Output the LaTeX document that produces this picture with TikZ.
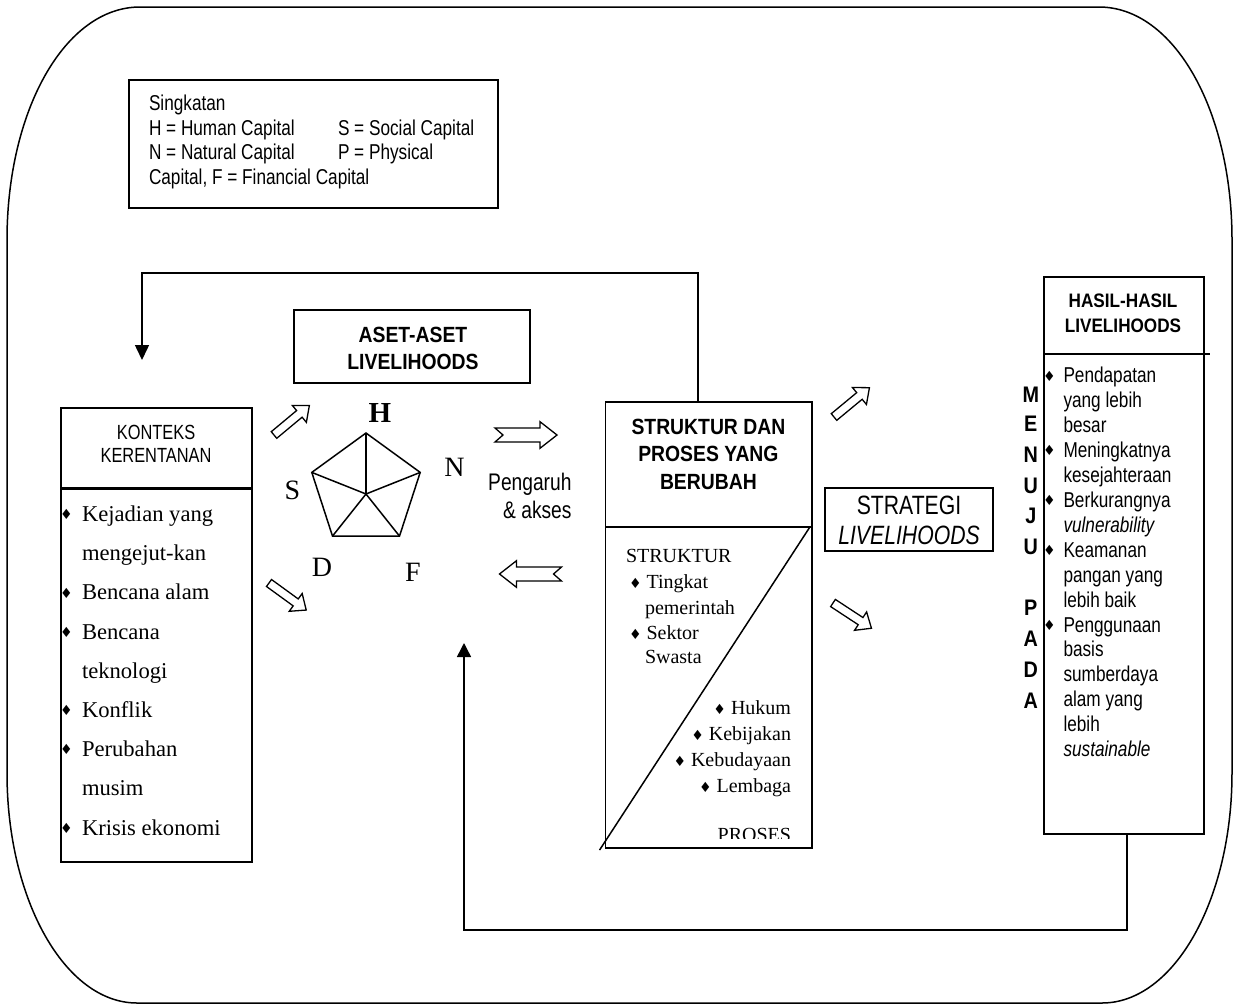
\documentclass[tikz,border=0pt]{standalone}
\usepackage{fontspec}
\setmainfont{Liberation Serif}
\newfontfamily\nsans[FakeStretch=0.8]{Liberation Sans}
\newfontfamily\bsans[FakeStretch=0.88]{Liberation Sans}
\newfontfamily\symf{DejaVu Sans}
\usetikzlibrary{arrows.meta,calc}
\newcommand{\dmd}{{\symf\fontsize{14}{14}\selectfont ♦}}
\tikzset{
  box/.style={draw, line width=1.7pt, inner sep=0pt, outer sep=0pt},
  boxl/.style={line width=1.7pt},
  conn/.style={line width=1.5pt},
  pent/.style={line width=1.5pt, line join=miter},
  harr/.style={line width=1.3pt, fill=white, line join=miter},
  txt/.style={inner sep=0pt, outer sep=0pt},
  lg/.style={txt, font=\nsans\fontsize{21.5}{24}\selectfont, text height=15.4pt, text depth=0pt, anchor=west},
  hl/.style={txt, font=\nsans\fontsize{21.5}{24}\selectfont, text height=15.4pt, text depth=0pt, anchor=west},
  ks/.style={txt, font=\nsans\fontsize{20.5}{24}\selectfont, text height=14.7pt, text depth=0pt},
  pg/.style={txt, font=\nsans\fontsize{24}{26}\selectfont, text height=17.2pt, text depth=0pt, anchor=east},
  st/.style={txt, font=\nsans\fontsize{26.5}{28}\selectfont, text height=19pt, text depth=0pt},
  sr/.style={txt, font=\fontsize{22.6}{26}\selectfont, text height=15pt, text depth=0pt, anchor=west},
  ss/.style={txt, font=\fontsize{20}{24}\selectfont, text height=13.3pt, text depth=0pt},
  bt/.style={txt, font=\bsans\bfseries\fontsize{22}{24}\selectfont, text height=15.8pt, text depth=0pt},
  bth/.style={txt, font=\bsans\bfseries\fontsize{19.5}{22}\selectfont, text height=14pt, text depth=0pt},
  mj/.style={txt, font=\bsans\bfseries\fontsize{22.5}{24}\selectfont, text height=16pt, text depth=0pt},
  pl/.style={txt, font=\fontsize{28}{30}\selectfont, text height=18.5pt, text depth=0pt},
  dia/.style={txt, font=\symf\fontsize{14}{14}\selectfont},
  hollow/.pic={\draw[harr] (0,-4.3) -- (33,-4.3) -- (33,-11) -- (46,0) -- (33,11) -- (33,4.3) -- (0,4.3) -- cycle;},
  notched/.pic={\draw[harr] (0,-7) -- (45,-7) -- (45,-13.3) -- (62,0) -- (45,13.3) -- (45,7) -- (0,7) -- (8,0) -- cycle;}
}
\begin{document}
\begin{tikzpicture}[x=1pt,y=-1pt]
\useasboundingbox (0,0) rectangle (1235,1005);
% outer frame
\draw[line width=1.5pt] (140,7) -- (1099,7) .. controls (1173.8,7) and (1232,110) .. (1232,240) -- (1232,773) .. controls (1232,900) and (1173.8,1003) .. (1102,1003) -- (137,1003) .. controls (65.2,1003) and (7,900) .. (7,773) -- (7,240) .. controls (7,110) and (65.2,7) .. (140,7) -- cycle;

% legend
\node[box, minimum width=369pt, minimum height=128pt] (legend) at (313.5,144) {};
\node[lg] (lg0) at (149,102.7) {Singkatan};
\node[lg] (lg1) at (149,127.3) {H = Human Capital};
\node[lg] (lg1b) at (338,127.3) {S = Social Capital};
\node[lg] (lg2) at (149,152) {N = Natural Capital};
\node[lg] (lg2b) at (338,152) {P = Physical};
\node[lg] (lg3) at (149,176.7) {Capital, F = Financial Capital};

% aset box
\node[box, minimum width=236pt, minimum height=73pt] (aset) at (412,346.5) {};
\node[bt] (aset1) at (413,335) {ASET-ASET};
\node[bt] (aset2) at (413,362) {LIVELIHOODS};

% konteks box
\node[box, minimum width=191pt, minimum height=454pt] (konteks) at (156.5,635) {};
\draw[line width=3pt] ([yshift=-80pt]konteks.north west) -- ([yshift=-80pt]konteks.north east);
\node[ks] (k1) at (156,431.7) {KONTEKS};
\node[ks] (k2) at (156,455) {KERENTANAN};
\foreach \t [count=\i from 0] in {Kejadian yang, mengejut-kan, Bencana alam, Bencana, teknologi, Konflik, Perubahan, musim, Krisis ekonomi}
  \node[sr] (kl\i) at (82,{514+39.2*\i}) {\t};
\foreach \i in {0,2,3,5,6,8}
  \node[dia] (kb\i) at (66.5,{514.5+39.2*\i}) {♦};

% pentagon
\coordinate (pT) at (366,433);
\coordinate (pR) at (420.2,472.4);
\coordinate (pBR) at (399.5,536.1);
\coordinate (pBL) at (332.5,536.1);
\coordinate (pL) at (311.8,472.4);
\coordinate (pC) at (366,494);
\draw[pent] (pT) -- (pR) -- (pBR) -- (pBL) -- (pL) -- cycle;
\foreach \p in {pT,pR,pBR,pBL,pL} \draw[pent] (pC) -- (\p);
\node[pl, font=\bfseries\fontsize{29}{30}\selectfont] (capH) at (380,413) {H};
\node[pl] (capS) at (292.5,490) {S};
\node[pl] (capN) at (454.5,467) {N};
\node[pl] (capD) at (322,567) {D};
\node[pl] (capF) at (413,572) {F};

% hollow arrows
\pic[rotate=39.8] at (274,435) {hollow};
\pic[rotate=-36] at (269,583) {hollow};
\pic[rotate=39.6] at (834,417) {hollow};
\pic[rotate=-33.3] at (833,603) {hollow};
\pic at (495,435) {notched};
\pic[rotate=180] at (561.5,574) {notched};

\node[pg] (peng1) at (571.5,481.7) {Pengaruh};
\node[pg] (peng2) at (571.5,510) {\& akses};

% struktur box
\node[box, minimum width=206.5pt, minimum height=446.3pt] (struktur) at (708.8,624.9) {};
\node[bt] (sj1) at (708.4,426.7) {STRUKTUR DAN};
\node[bt] (sj2) at (708.4,454) {PROSES YANG};
\node[bt] (sj3) at (708.4,481.7) {BERUBAH};
\draw[boxl] ([yshift=-125pt]struktur.north west) -- ([yshift=-125pt]struktur.north east);
\draw[line width=1.5pt] ([xshift=-2pt,yshift=-125pt]struktur.north east) -- ([xshift=-6pt,yshift=-2pt]struktur.south west);
\node[ss, anchor=west] (s0) at (626,556) {STRUKTUR};
\node[ss, anchor=west] (s1) at (629,581.7) {\dmd\hspace{5pt}Tingkat};
\node[ss, anchor=west] (s2) at (645,608) {pemerintah};
\node[ss, anchor=west] (s3) at (629,633) {\dmd\hspace{5pt}Sektor};
\node[ss, anchor=west] (s4) at (645,656.7) {Swasta};
\node[ss, anchor=east] (s5) at (791,708) {\dmd\hspace{5pt}Hukum};
\node[ss, anchor=east] (s6) at (791,734) {\dmd\hspace{5pt}Kebijakan};
\node[ss, anchor=east] (s7) at (791,760) {\dmd\hspace{5pt}Kebudayaan};
\node[ss, anchor=east] (s8) at (791,786) {\dmd\hspace{5pt}Lembaga};
\begin{scope}
\clip (600,815) rectangle (812,838.5);
\node[ss, anchor=east] (s9) at (791,835) {PROSES};
\end{scope}

% strategi box
\node[box, minimum width=168pt, minimum height=63pt] (strategi) at (909,519.5) {};
\node[st] (st1) at (909,505) {STRATEGI};
\node[st, font=\nsans\itshape\fontsize{26.5}{28}\selectfont] (st2) at (909,535) {LIVELIHOODS};

% hasil box
\node[box, minimum width=160pt, minimum height=557pt] (hasil) at (1124,555.5) {};
\draw[boxl] ([yshift=-77pt]hasil.north west) -- ([xshift=6pt,yshift=-77pt]hasil.north east);
\node[bth] (hj1) at (1123,300) {HASIL-HASIL};
\node[bth] (hj2) at (1123,325) {LIVELIHOODS};
\foreach \t [count=\i from 0] in {Pendapatan, yang lebih, besar, Meningkatnya, kesejahteraan, Berkurangnya, \textit{vulnerability}, Keamanan, pangan yang, lebih baik, Penggunaan, basis, sumberdaya, alam yang, lebih, \textit{sustainable}}
  \node[hl] (h\i) at (1063.5,{375+24.93*\i}) {\t};
\foreach \i in {0,3,5,7,10}
  \node[dia] (hb\i) at (1049.5,{376+24.93*\i}) {♦};
\foreach \c/\y [count=\i] in {M/394,E/423.7,N/454.7,U/485,J/515.7,U/546.7,P/607,A/638.3,D/669,A/700}
  \node[mj] (mj\i) at (1030.8,\y) {\c};

% feedback connectors
\coordinate (tcorner) at (142,273);
\coordinate (topin) at (142,360);
\draw[conn,-{Triangle[width=14pt,length=15pt]}] ([xshift=-10.8pt]struktur.north) |- (tcorner) -- (topin);
\coordinate (bcorner) at (464,930);
\coordinate (botin) at (464,643);
\draw[conn,-{Triangle[width=14pt,length=14pt]}] ([xshift=83pt]hasil.south west) |- (bcorner) -- (botin);
\end{tikzpicture}
\end{document}
